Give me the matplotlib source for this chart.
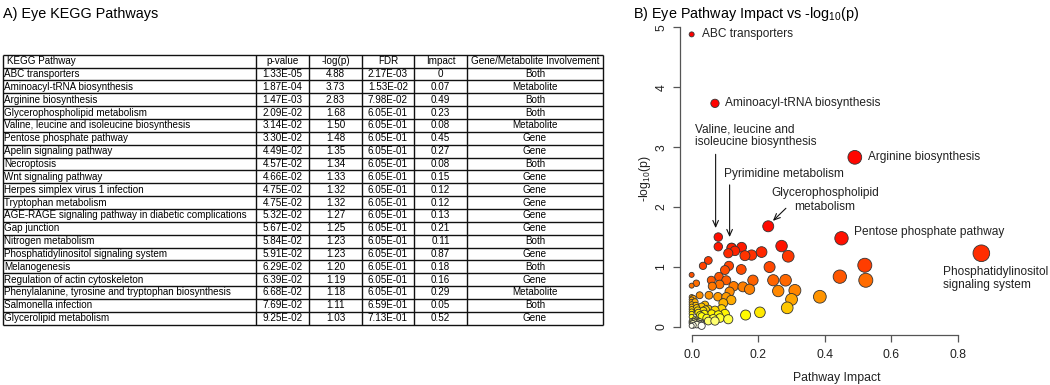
import colorsys
import numpy as np
import matplotlib
matplotlib.use("Agg")
import matplotlib.pyplot as plt

plt.rcParams['font.family'] = ['Liberation Sans', 'DejaVu Sans']

# ---------------- data: table ----------------
pathways = ["ABC transporters", "Aminoacyl-tRNA biosynthesis", "Arginine biosynthesis",
            "Glycerophospholipid metabolism", "Valine, leucine and isoleucine biosynthesis",
            "Pentose phosphate pathway", "Apelin signaling pathway", "Necroptosis",
            "Wnt signaling pathway", "Herpes simplex virus 1 infection", "Tryptophan metabolism",
            "AGE-RAGE signaling pathway in diabetic complications", "Gap junction",
            "Nitrogen metabolism", "Phosphatidylinositol signaling system", "Melanogenesis",
            "Regulation of actin cytoskeleton",
            "Phenylalanine, tyrosine and tryptophan biosynthesis", "Salmonella infection",
            "Glycerolipid metabolism"]
pvalues = ["1.33E-05", "1.87E-04", "1.47E-03", "2.09E-02", "3.14E-02", "3.30E-02", "4.49E-02",
           "4.57E-02", "4.66E-02", "4.75E-02", "4.75E-02", "5.32E-02", "5.67E-02", "5.84E-02",
           "5.91E-02", "6.29E-02", "6.39E-02", "6.68E-02", "7.69E-02", "9.25E-02"]
neglogp = [4.88, 3.73, 2.83, 1.68, 1.50, 1.48, 1.35, 1.34, 1.33, 1.32, 1.32, 1.27, 1.25, 1.23,
           1.23, 1.20, 1.19, 1.18, 1.11, 1.03]
fdr = ["2.17E-03", "1.53E-02", "7.98E-02", "6.05E-01", "6.05E-01", "6.05E-01", "6.05E-01",
       "6.05E-01", "6.05E-01", "6.05E-01", "6.05E-01", "6.05E-01", "6.05E-01", "6.05E-01",
       "6.05E-01", "6.05E-01", "6.05E-01", "6.05E-01", "6.59E-01", "7.13E-01"]
impact = [0, 0.07, 0.49, 0.23, 0.08, 0.45, 0.27, 0.08, 0.15, 0.12, 0.12, 0.13, 0.21, 0.11,
          0.87, 0.18, 0.16, 0.29, 0.05, 0.52]
involvement = ["Both", "Metabolite", "Both", "Both", "Metabolite", "Gene", "Gene", "Both", "Gene",
               "Gene", "Gene", "Gene", "Gene", "Both", "Gene", "Both", "Gene", "Metabolite",
               "Both", "Gene"]
header = ["KEGG Pathway", "p-value", "-log(p)", "FDR", "Impact", "Gene/Metabolite Involvement"]

# ---------------- data: other (unlabelled) pathways in the scatter ----------------
other_impact = [0.034, 0.112, 0.100, 0.149, 0.234, 0.0, 0.0, 0.014, 0.059, 0.062, 0.082, 0.104,
                0.084, 0.126, 0.114, 0.154, 0.174, 0.184, 0.245, 0.282, 0.445, 0.523, 0.260,
                0.310, 0.300, 0.287, 0.385, 0.205, 0.162, 0.110, 0.024, 0.052, 0.079, 0.104,
                0.119, 0.095,
                0.0, 0.0, 0.0, 0.0, 0.0, 0.0, 0.0, 0.0, 0.0, 0.0, 0.0,
                0.015, 0.020, 0.030, 0.040, 0.050, 0.060, 0.070, 0.080, 0.090, 0.100, 0.035,
                0.045, 0.065, 0.085, 0.020, 0.025, 0.010, 0.050, 0.070,
                0.005, 0.010, 0.012, 0.018, 0.025, 0.030, 0.038, 0.042,
                0.0, 0.0, 0.005, 0.008, 0.012, 0.015, 0.020, 0.025, 0.028, 0.030, 0.004,
                0.016]
other_neglogp = [1.02, 1.02, 0.95, 0.96, 1.00, 0.87, 0.69, 0.73, 0.78, 0.68, 0.84, 0.78,
                 0.71, 0.68, 0.59, 0.67, 0.63, 0.78, 0.78, 0.78, 0.84, 0.78, 0.60,
                 0.61, 0.46, 0.32, 0.505, 0.245, 0.20, 0.13, 0.53, 0.53, 0.505, 0.50,
                 0.45, 0.40,
                 0.50, 0.46, 0.42, 0.38, 0.34, 0.30, 0.26, 0.22, 0.17, 0.10, 0.06,
                 0.32, 0.24, 0.18, 0.37, 0.30, 0.22, 0.28, 0.20, 0.30, 0.22, 0.27,
                 0.15, 0.14, 0.15, 0.09, 0.04, 0.12, 0.10, 0.10,
                 0.48, 0.42, 0.36, 0.28, 0.20, 0.34, 0.22, 0.29,
                 0.02, 0.08, 0.03, 0.09, 0.07, 0.04, 0.06, 0.08, 0.05, 0.02, 0.06,
                 0.11]

fig = plt.figure(figsize=(10.5, 3.85), dpi=100)

# ---------------- Panel A: table ----------------
tax = fig.add_axes([0, 0, 1, 1])
tax.set_xlim(0, 1050)
tax.set_ylim(385, 0)
tax.axis('off')

tax.text(3, 14, "A) Eye KEGG Pathways", fontsize=10.4, ha='left', va='center')

col_edges = [2.5, 256, 309, 362, 414, 467, 603]
top, bottom = 54.8, 324.6
nrows = len(pathways) + 1
rh = (bottom - top) / nrows
lc = '#111111'
for i in range(nrows + 1):
    y = top + i * rh
    tax.plot([col_edges[0], col_edges[-1]], [y, y], color=lc, lw=1.0, solid_capstyle='butt')
for x in col_edges:
    tax.plot([x, x], [top, bottom], color=lc, lw=1.0, solid_capstyle='butt')

fs_t = 7.1
rows = [header] + [[pathways[i], pvalues[i], f"{neglogp[i]:.2f}", fdr[i],
                    (f"{impact[i]:.2f}" if impact[i] != 0 else "0"), involvement[i]]
                   for i in range(len(pathways))]
for r, row in enumerate(rows):
    yc = top + (r + 0.5) * rh
    for c, txt in enumerate(row):
        if c == 0:
            tax.text(col_edges[0] + (4.5 if r == 0 else 2.0), yc, txt, fontsize=fs_t,
                     ha='left', va='center')
        else:
            xc = 0.5 * (col_edges[c] + col_edges[c + 1])
            tax.text(xc, yc, txt, fontsize=fs_t, ha='center', va='center')

# ---------------- Panel B: scatter ----------------
fig.text(633 / 1050, 1 - 14 / 385, r"B) Eye Pathway Impact vs -log$_\mathregular{10}$(p)",
         fontsize=10.4, ha='left', va='center')

ax = fig.add_axes([680 / 1050, (385 - 335) / 385, (993 - 680) / 1050, (335 - 23) / 385])
ax.set_xlim(-0.035, 0.905)
ax.set_ylim(-0.133, 5.07)
ax.patch.set_alpha(0)

xs = np.array(impact + other_impact, dtype=float)
ys = np.array(neglogp + other_neglogp, dtype=float)
n = len(xs)

# R heat.colors(n), assigned by rank of significance
j = n // 4
i_ = n - j
heat = []
for k in range(i_):
    h = (1 / 6) * k / (i_ - 1)
    heat.append(colorsys.hsv_to_rgb(h, 1, 1))
for s in np.linspace(1 - 1 / (2 * j), 1 / (2 * j), j):
    heat.append(colorsys.hsv_to_rgb(1 / 6, s, 1))
order = np.argsort(-ys, kind='stable')
cols = [None] * n
for rank, idx in enumerate(order):
    cols[idx] = heat[rank]

diam_px = 5.0 + 12.5 * np.sqrt(xs)
sizes = (diam_px * 0.72) ** 2
# R order: most significant drawn first, least significant on top
draw = order
ax.scatter(xs[draw], ys[draw], s=sizes[draw], c=[cols[k] for k in draw],
           edgecolors='#333333', linewidths=0.6, clip_on=False, zorder=3)

spc = '#555555'
for sp in ['top', 'right']:
    ax.spines[sp].set_visible(False)
ax.spines['left'].set_bounds(0, 5)
ax.spines['bottom'].set_bounds(0, 0.8)
for sp in ['left', 'bottom']:
    ax.spines[sp].set_color(spc)
    ax.spines[sp].set_linewidth(0.9)
ax.set_xticks([0, 0.2, 0.4, 0.6, 0.8])
ax.set_xticklabels(["0.0", "0.2", "0.4", "0.6", "0.8"])
ax.set_yticks([0, 1, 2, 3, 4, 5])
ax.set_yticklabels(["0", "1", "2", "3", "4", "5"], rotation=90, va='center')
ax.tick_params(axis='both', colors=spc, labelcolor='#222222', labelsize=8.8, length=5,
               width=0.9)
ax.tick_params(axis='x', pad=5)
ax.tick_params(axis='y', pad=4)

ax.set_xlabel("Pathway Impact", fontsize=8.8, color='#222222', labelpad=8)
ax.set_ylabel(r"-log$_\mathregular{10}$(p)", fontsize=8.8, color='#222222', labelpad=2)

tc = '#222222'
afs = 8.6
ax.text(0.03, 4.88, "ABC transporters", fontsize=afs, color=tc, ha='left', va='center')
ax.text(0.10, 3.73, "Aminoacyl-tRNA biosynthesis", fontsize=afs, color=tc, ha='left',
        va='center')
ax.text(0.53, 2.83, "Arginine biosynthesis", fontsize=afs, color=tc, ha='left', va='center')
ax.text(0.01, 3.19, "Valine, leucine and\nisoleucine biosynthesis", fontsize=afs, color=tc,
        ha='left', va='center', linespacing=1.15)
ax.text(0.096, 2.55, "Pyrimidine metabolism", fontsize=afs, color=tc, ha='left', va='center')
ax.text(0.40, 2.12, "Glycerophospholipid\nmetabolism", fontsize=afs, color=tc, ha='center',
        va='center', linespacing=1.15)
ax.text(0.487, 1.58, "Pentose phosphate pathway", fontsize=afs, color=tc, ha='left',
        va='center')
ax.text(0.755, 0.81, "Phosphatidylinositol\nsignaling system", fontsize=afs, color=tc,
        ha='left', va='center', linespacing=1.15)

ap = dict(arrowstyle='->,head_length=0.45,head_width=0.2', color='#111111', lw=0.8,
          shrinkA=0, shrinkB=0)
ax.annotate("", xy=(0.072, 1.65), xytext=(0.072, 2.88), arrowprops=ap, annotation_clip=False)
ax.annotate("", xy=(0.114, 1.50), xytext=(0.114, 2.37), arrowprops=ap, annotation_clip=False)
ax.annotate("", xy=(0.244, 1.77), xytext=(0.283, 1.98), arrowprops=ap, annotation_clip=False)

fig.savefig("out.png", dpi=100)
